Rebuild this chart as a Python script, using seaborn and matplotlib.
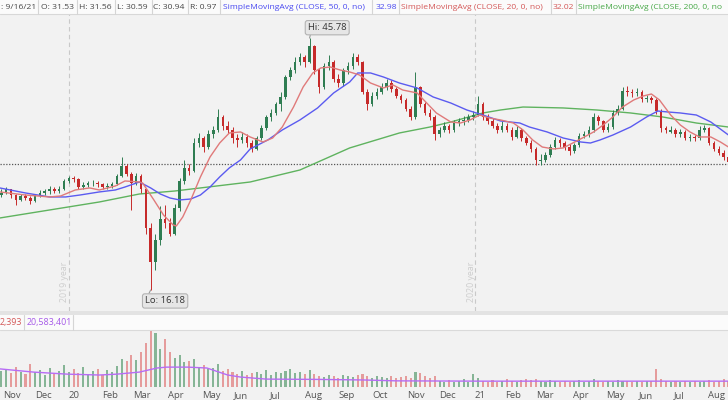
import numpy as np
import pandas as pd
import matplotlib
matplotlib.use("Agg")
import matplotlib.pyplot as plt
import seaborn as sns
from matplotlib.patches import Rectangle
from matplotlib.lines import Line2D

# ---------------- data ----------------
# one candle per 3 trading days; x unit = trading days since 1 Nov 2019
candle_day = list(range(-1, 453, 3))

opens = [27.3, 27.6, 28.0, 27.3, 26.8, 27.2, 27.0, 26.6, 27.3, 27.6,
         27.8, 28.0, 27.8, 28.0, 29.0, 29.3, 29.2, 28.3, 28.5, 28.7,
         28.8, 28.6, 28.3, 28.4, 28.6, 29.6, 30.8, 29.8, 28.8, 29.6,
         28.0, 23.5, 19.5, 22.0, 24.5, 24.0, 22.8, 25.8, 29.0, 30.5,
         30.2, 33.5, 34.0, 33.0, 34.5, 35.0, 36.5, 35.5, 35.0, 34.0,
         33.8, 34.2, 33.5, 32.8, 34.0, 35.2, 36.5, 37.0, 38.0, 38.8,
         41.2, 42.0, 43.0, 43.5, 43.0, 44.8, 42.0, 40.0, 42.5, 43.0,
         41.0, 40.5, 42.0, 42.5, 43.5, 43.0, 39.5, 38.0, 39.0, 39.5,
         40.0, 40.5, 39.8, 39.0, 38.5, 37.5, 36.5, 40.0, 38.0, 37.0,
         36.5, 34.5, 35.0, 35.5, 35.0, 35.8, 36.0, 36.2, 36.5, 36.8,
         38.0, 36.5, 36.0, 35.5, 35.0, 35.5, 35.0, 34.2, 35.0, 34.0,
         33.5, 32.8, 31.3, 31.5, 32.0, 33.0, 33.8, 33.4, 33.0, 32.5,
         33.2, 34.3, 34.5, 35.0, 36.5, 36.0, 35.0, 35.3, 37.0, 37.5,
         39.6, 39.5, 39.3, 39.5, 38.6, 38.7, 38.5, 37.2, 35.2, 34.8,
         35.0, 34.5, 34.8, 34.0, 34.2, 34.0, 35.0, 35.2, 33.5, 32.8,
         32.3, 31.8]
highs = [28.0, 28.3, 28.1, 27.5, 27.5, 27.5, 27.2, 27.5, 27.9, 28.1,
         28.4, 28.3, 28.4, 29.2, 29.6, 29.6, 29.3, 28.9, 29.0, 29.1,
         29.0, 28.8, 28.7, 28.9, 29.8, 31.8, 31.0, 30.0, 29.9, 29.8,
         28.2, 24.0, 22.8, 26.0, 26.2, 24.6, 26.3, 29.3, 31.5, 31.0,
         34.0, 34.6, 34.3, 35.0, 35.5, 37.5, 36.8, 36.0, 35.3, 34.5,
         34.8, 34.5, 33.8, 34.3, 35.6, 36.8, 37.4, 38.3, 39.4, 41.5,
         42.4, 43.5, 44.0, 43.8, 45.78, 45.0, 42.3, 42.8, 43.8, 43.2,
         41.6, 42.3, 43.0, 44.0, 43.9, 43.1, 39.8, 39.4, 39.9, 40.5,
         41.0, 40.8, 40.0, 39.2, 38.7, 37.8, 41.8, 40.2, 38.3, 37.4,
         36.8, 35.3, 35.9, 35.7, 36.1, 36.4, 36.6, 36.9, 37.2, 39.0,
         38.3, 36.9, 36.4, 35.8, 36.0, 35.8, 35.3, 35.4, 35.2, 34.3,
         33.8, 33.0, 32.2, 32.4, 33.3, 34.2, 34.0, 33.7, 33.3, 33.5,
         34.6, 34.9, 35.4, 37.0, 36.8, 36.2, 35.8, 37.3, 37.9, 40.0,
         40.2, 39.8, 39.9, 39.7, 39.1, 39.0, 38.7, 37.4, 35.5, 35.4,
         35.2, 35.1, 35.0, 34.5, 34.4, 35.4, 35.6, 35.3, 33.7, 33.1,
         32.6, 32.1]
lows = [27.1, 27.4, 27.0, 26.2, 26.6, 26.7, 26.3, 26.5, 27.1, 27.3,
        27.5, 27.6, 27.6, 27.9, 28.8, 28.9, 28.0, 28.1, 28.3, 28.4,
        28.3, 28.0, 28.0, 28.2, 28.5, 29.4, 29.6, 25.6, 28.5, 27.6,
        22.8, 16.18, 18.5, 21.5, 23.5, 22.5, 22.6, 25.5, 28.6, 29.7,
        30.0, 33.0, 32.4, 32.8, 34.0, 34.8, 35.0, 34.6, 33.5, 33.0,
        33.5, 33.0, 32.4, 32.6, 33.8, 35.0, 36.0, 36.7, 37.2, 38.6,
        40.8, 41.7, 42.6, 42.4, 42.8, 41.6, 39.3, 39.8, 42.0, 40.6,
        40.0, 40.2, 41.6, 42.2, 42.6, 39.2, 37.3, 37.8, 38.6, 39.2,
        39.7, 39.5, 38.7, 38.1, 37.2, 36.2, 36.3, 37.7, 36.8, 36.1,
        33.8, 34.1, 34.7, 34.6, 34.8, 35.5, 35.6, 35.9, 36.2, 36.6,
        36.2, 35.7, 35.2, 34.6, 34.8, 34.7, 33.8, 34.0, 33.7, 33.2,
        32.4, 30.9, 30.9, 31.2, 31.8, 32.8, 33.0, 32.6, 32.0, 32.3,
        33.0, 34.0, 34.2, 34.8, 35.6, 34.7, 34.7, 35.1, 36.7, 37.3,
        39.0, 38.9, 39.0, 38.3, 38.3, 38.2, 36.9, 34.8, 34.6, 34.6,
        34.2, 34.2, 33.8, 33.7, 33.7, 33.8, 34.7, 33.2, 32.5, 32.0,
        31.5, 30.9]
closes = [27.6, 28.0, 27.3, 26.8, 27.2, 27.0, 26.6, 27.3, 27.6, 27.8,
          28.0, 27.8, 28.0, 29.0, 29.3, 29.2, 28.3, 28.5, 28.7, 28.8,
          28.6, 28.3, 28.4, 28.6, 29.6, 30.8, 29.8, 28.8, 29.6, 28.0,
          23.5, 19.5, 22.0, 24.5, 24.0, 22.8, 25.8, 29.0, 30.5, 30.2,
          33.5, 34.0, 33.0, 34.5, 35.0, 36.5, 35.5, 35.0, 34.0, 33.8,
          34.2, 33.5, 32.8, 34.0, 35.2, 36.5, 37.0, 38.0, 38.8, 41.2,
          42.0, 43.0, 43.5, 43.0, 44.8, 42.0, 40.0, 42.5, 43.0, 41.0,
          40.5, 42.0, 42.5, 43.5, 43.0, 39.5, 38.0, 39.0, 39.5, 40.0,
          40.5, 39.8, 39.0, 38.5, 37.5, 36.5, 40.0, 38.0, 37.0, 36.5,
          34.5, 35.0, 35.5, 35.0, 35.8, 36.0, 36.2, 36.5, 36.8, 38.0,
          36.5, 36.0, 35.5, 35.0, 35.5, 35.0, 34.2, 35.0, 34.0, 33.5,
          32.8, 31.5, 31.5, 32.0, 33.0, 33.8, 33.4, 33.0, 32.5, 33.2,
          34.3, 34.5, 35.0, 36.5, 36.0, 35.0, 35.3, 37.0, 37.5, 39.6,
          39.5, 39.3, 39.5, 38.6, 38.7, 38.5, 37.2, 35.2, 35.0, 35.0,
          34.5, 34.8, 34.0, 34.2, 34.0, 35.0, 35.2, 33.5, 32.8, 32.3,
          31.8, 31.2]
volume_m = [55, 62, 48, 70, 52, 45, 80, 50, 58, 42, 65, 47, 55,
            75, 52, 60, 48, 70, 45, 55, 62, 40, 58, 50, 72, 95,
            88, 110, 92, 120, 150,
            190, 185, 130, 165, 120,
            100, 110, 85, 90, 95,
            70, 75, 60, 65, 80, 55, 62,
            50, 45, 55, 40, 48, 52, 45, 58, 42, 50, 47, 55, 60, 48, 52, 45, 58,
            45, 38, 34, 40, 36, 31, 42, 38, 34, 40, 46, 36, 32, 38, 34, 30, 36,
            32, 34, 38, 31, 50, 48, 36, 32, 38,
            22, 18, 25, 17, 20, 26, 18, 45, 30, 20,
            16, 24, 18, 21, 26, 20, 18, 23, 28, 24,
            26, 21, 18, 24, 20, 16, 22, 18, 21, 24,
            18, 22, 26, 20, 16, 21, 18, 24, 22, 20,
            18, 21, 16, 22, 20, 62, 26, 21, 18, 20,
            16, 22, 18, 21, 17, 20, 24, 18, 21, 26, 22]

ma50_day = [-2, 14, 29, 39, 48, 60, 70, 76, 85, 92, 98, 104, 110, 117, 123, 129, 135,
            141, 148, 154, 165, 174, 185, 196, 206, 216, 221, 229, 237, 247, 258,
            268, 279, 289, 299, 310, 322, 328, 339, 349, 360, 366, 372, 380, 391,
            401, 408, 414, 422, 432, 441, 452]
ma50_val = [28.17, 27.58, 27.11, 27.11, 27.34, 27.70, 27.93, 28.28, 28.87, 28.17,
            27.46, 26.99, 26.76, 26.87, 27.34, 28.28, 29.46, 30.52, 31.46, 32.75,
            33.81, 34.98, 36.16, 37.57, 39.33, 40.62, 41.68, 41.68, 41.21, 40.50,
            39.92, 38.86, 38.15, 37.33, 36.74, 36.04, 35.80, 35.33, 34.75, 34.04,
            33.57, 33.45, 33.81, 34.39, 35.33, 36.51, 37.21, 37.10, 36.98, 36.74,
            35.92, 34.39]
ma20_day = [-2, 14, 29, 36, 45, 54, 60, 70, 76, 85, 87, 94, 100, 106, 108, 112, 117,
            123, 129, 135, 141, 148, 154, 162, 168, 174, 181, 187, 193, 198, 204,
            210, 216, 222, 229, 237, 243, 249, 258, 264, 270, 279, 285, 291, 297,
            303, 310, 318, 324, 330, 336, 343, 349, 355, 361, 368, 374, 380, 386,
            393, 399, 404, 409, 416, 422, 428, 434, 441, 447, 452]
ma20_val = [27.70, 27.34, 27.11, 27.23, 27.93, 28.17, 27.93, 28.40, 28.99, 28.87,
            28.75, 26.76, 24.99, 23.82, 23.70, 24.76, 26.76, 29.46, 31.81, 33.45,
            34.63, 34.75, 34.16, 33.57, 34.04, 35.33, 37.68, 40.03, 41.68, 42.27,
            42.38, 42.03, 41.80, 41.45, 40.50, 39.92, 40.27, 39.68, 39.33, 38.15,
            36.98, 35.92, 35.80, 36.16, 36.74, 36.39, 36.16, 35.80, 34.98, 33.81,
            32.98, 32.75, 32.87, 33.45, 34.04, 34.75, 35.57, 36.51, 37.68, 38.51,
            38.98, 39.21, 38.51, 36.74, 35.57, 34.75, 34.16, 34.16, 33.57, 32.98]
ma200_day = [-2, 29, 60, 85, 107, 123, 154, 185, 216, 247, 266, 279, 299, 310, 324,
             349, 370, 391, 411, 432, 452]
ma200_val = [24.64, 25.58, 26.52, 27.46, 27.81, 28.17, 28.87, 30.28, 32.87, 34.63,
             35.33, 35.92, 36.98, 37.33, 37.68, 37.57, 37.33, 36.98, 36.51, 35.80, 35.33]
vavg_day = [-2, 19, 40, 60, 71, 85, 96, 102, 115, 127, 140, 148, 164, 196, 225, 245,
            300, 350, 400, 452]
vavg_val = [62, 51, 44, 41, 44, 51, 65, 68, 68, 65, 41, 34, 27, 26, 24, 21, 20, 20, 20, 20]

month_day = [0, 20, 41, 62, 81, 103, 124, 144, 166, 188, 209, 230, 252, 272, 294,
             313, 332, 355, 376, 396, 418, 439]
month_label = ["Nov", "Dec", "20", "Feb", "Mar", "Apr", "May", "Jun", "Jul", "Aug",
               "Sep", "Oct", "Nov", "Dec", "21", "Feb", "Mar", "Apr", "May", "Jun",
               "Jul", "Aug"]
year_line_day = [41, 294]
year_label = ["2019 year", "2020 year"]
last_close = 30.94
hi_val, lo_val = 45.78, 16.18

n = len(candle_day)
assert all(len(a) == n for a in (opens, highs, lows, closes, volume_m)), \
    [len(a) for a in (opens, highs, lows, closes, volume_m)]

df = pd.DataFrame(dict(day=candle_day, open=opens, high=highs, low=lows,
                       close=closes, volume=volume_m))

# ---------------- style ----------------
BG = "#f2f2f2"
HDR = "#fbfbfb"
GREEN = "#2f7d52"
RED = "#c62a2a"
VGREEN = "#86b596"
VRED = "#e59c9c"
C50 = "#5b5bf0"
C20 = "#e07a7a"
C200 = "#5fb35f"
CVOL = "#b76cf5"

sns.set_style("white", {"axes.facecolor": BG, "figure.facecolor": BG})
plt.rcParams["font.family"] = ["Open Sans", "DejaVu Sans"]

W, H = 728, 400
fig = plt.figure(figsize=(W / 100, H / 100), dpi=100)


def fx(px):
    return px / W


def fy(py):
    return 1 - py / H


XMIN, XMAX = -3 / 1.605, 725 / 1.605
ax = fig.add_axes([0, fy(311), 1, (311 - 14) / H])
axv = fig.add_axes([0, fy(387), 1, (387 - 330) / H])
for a in (ax, axv):
    a.set_facecolor(BG)
    a.set_xlim(XMIN, XMAX)
    for s in a.spines.values():
        s.set_visible(False)
ax.set_ylim(13.71, 48.61)
axv.set_ylim(0, 195)

# year separators
for d, lab in zip(year_line_day, year_label):
    ax.axvline(d, color="#c9c9c9", lw=0.8, ls=(0, (4, 3)), zorder=1)
    ax.text(d - 2.4, 14.77, lab, rotation=90, ha="center", va="bottom",
            color="#cdcdcd", fontsize=6.3, zorder=1)

# current price dotted line
ax.axhline(last_close, color="#555555", lw=0.9, ls=(0, (1, 1.3)), zorder=2)

# moving averages
sns.lineplot(x=ma200_day, y=ma200_val, ax=ax, color=C200, lw=1.0, zorder=2)
sns.lineplot(x=ma50_day, y=ma50_val, ax=ax, color=C50, lw=1.0, zorder=5)
sns.lineplot(x=ma20_day, y=ma20_val, ax=ax, color=C20, lw=1.0, zorder=5)

# candles
up = df["close"] >= df["open"]
ccol = np.where(up, GREEN, RED)
ax.vlines(df["day"], df["low"], df["high"], colors=ccol, lw=0.7, zorder=3)
body = (df["close"] - df["open"]).abs().clip(lower=0.08)
ax.bar(df["day"], body, bottom=np.minimum(df["open"], df["close"]), width=1.6,
       color=ccol, linewidth=0, zorder=4)

# hi / lo labels
box = dict(boxstyle="round,pad=0.28,rounding_size=0.25", fc="#e6e6e6", ec="#b3b3b3", lw=0.8)
ax.annotate(f"Hi: {hi_val:.2f}", xy=(191, hi_val), xytext=(202, 47.0),
            ha="center", va="center", fontsize=6.8, color="#333333", bbox=box,
            arrowprops=dict(arrowstyle="-", color="#9a9a9a", lw=0.8,
                            shrinkA=0, shrinkB=0, relpos=(0.08, 0.0)), zorder=6)
ax.annotate(f"Lo: {lo_val:.2f}", xy=(92, lo_val), xytext=(101, 14.89),
            ha="center", va="center", fontsize=6.8, color="#333333", bbox=box,
            arrowprops=dict(arrowstyle="-", color="#9a9a9a", lw=0.8,
                            shrinkA=0, shrinkB=0, relpos=(0.06, 1.0)), zorder=6)

ax.set_xticks([])
ax.set_yticks([])
ax.set_xlabel("")
ax.set_ylabel("")

# volume
vcol = np.where(up, VGREEN, VRED)
axv.bar(df["day"], df["volume"], width=1.3, color=vcol, linewidth=0, zorder=2)
sns.lineplot(x=vavg_day, y=vavg_val, ax=axv, color=CVOL, lw=1.0, zorder=3)
axv.set_yticks([])
axv.set_xticks(month_day)
axv.set_xticklabels(month_label, ha="left")
axv.tick_params(axis="x", length=0, pad=3, labelsize=6.8, colors="#555555")
axv.set_xlabel("")
axv.set_ylabel("")

# ---------------- header bands ----------------
def band(y0, y1, color):
    fig.patches.append(Rectangle((0, fy(y1)), 1, (y1 - y0) / H, transform=fig.transFigure,
                                 facecolor=color, edgecolor="none", zorder=1))


def hline(y, color="#d8d8d8", lw=0.8):
    fig.lines.append(Line2D([0, 1], [fy(y), fy(y)], transform=fig.transFigure,
                            color=color, lw=lw, zorder=2))


def vsep(x, y0, y1):
    fig.lines.append(Line2D([fx(x), fx(x)], [fy(y0), fy(y1)], transform=fig.transFigure,
                            color="#d5d5d5", lw=0.8, zorder=2))


band(0, 14, HDR)
hline(14)
header = [(1, ": 9/16/21", "#474747"), (41, "O: 31.53", "#474747"),
          (79, "H: 31.56", "#474747"), (117, "L: 30.59", "#474747"),
          (153, "C: 30.94", "#474747"), (190, "R: 0.97", "#474747"),
          (223, "SimpleMovingAvg (CLOSE, 50, 0, no)", "#4a4af0"),
          (376, "32.98", "#4a4af0"),
          (401, "SimpleMovingAvg (CLOSE, 20, 0, no)", "#d45858"),
          (553, "32.02", "#d45858"),
          (578, "SimpleMovingAvg (CLOSE, 200, 0, no", "#48a848")]
for x, t, c in header:
    fig.text(fx(x), fy(7.5), t, ha="left", va="center", color=c, fontsize=6.1)
for x in (38, 77, 115, 152, 188, 220, 372, 399, 551, 576):
    vsep(x, 0, 14)

band(311, 315, "#e3e3e3")
band(315, 330, HDR)
hline(330, "#dadada")
fig.text(fx(0), fy(323), "2,393", ha="left", va="center", color="#d45858", fontsize=6.4)
fig.text(fx(27), fy(323), "20,583,401", ha="left", va="center", color="#a65ae8", fontsize=6.4)
vsep(24, 315, 330)
vsep(73, 315, 330)

fig.savefig("out.png", dpi=100, facecolor=BG)
